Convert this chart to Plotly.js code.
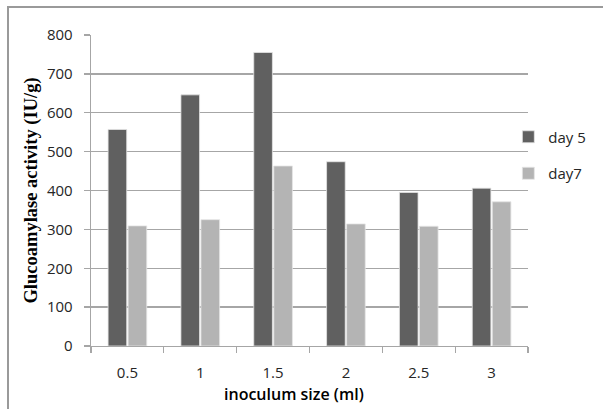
<!DOCTYPE html>
<html>
<head>
<meta charset="utf-8">
<script src="https://cdn.plot.ly/plotly-3.0.1.min.js"></script>
<style>
  html, body { margin: 0; padding: 0; background: #ffffff; }
  #wrap { position: relative; width: 603px; height: 409px; overflow: hidden; }
  #chart { position: absolute; left: 0; top: 0; width: 603px; height: 409px; }
  /* thin frame along the left and top edges */
  #frame { position: absolute; left: 7px; top: 6px; width: 700px; height: 500px;
           border-left: 2px solid #9a9a9a; border-top: 2px solid #9a9a9a;
           pointer-events: none; }
</style>
</head>
<body>
<div id="wrap">
  <div id="chart"></div>
  <div id="frame"></div>
</div>
<script>
// inoculum sizes (ml) on the category axis
const inoculumSizes = ['0.5', '1', '1.5', '2', '2.5', '3'];
// glucoamylase activity (IU/g) per inoculum size
const day5Activity = [557, 646, 755, 474, 395, 406];
const day7Activity = [309, 325, 463, 314, 308, 371];
const seriesNames = ['day 5', 'day7'];
const yTicks = [0, 100, 200, 300, 400, 500, 600, 700, 800];

const gridGrey = '#a6a6a6';
const tickFont = { family: '"Open Sans", "DejaVu Sans", sans-serif', size: 15, color: '#262626' };

const traces = [
  {
    type: 'bar', name: seriesNames[0], legendgroup: 'a',
    x: inoculumSizes, y: day5Activity,
    marker: { color: '#606060', line: { color: '#e4e4e4', width: 0.8 } },
    hoverinfo: 'x+y'
  },
  {
    type: 'bar', name: seriesNames[1], legendgroup: 'b',
    x: inoculumSizes, y: day7Activity,
    marker: { color: '#b4b4b4', line: { color: '#e4e4e4', width: 0.8 } },
    hoverinfo: 'x+y'
  }
];

const layout = {
  width: 603, height: 409,
  margin: { l: 91, r: 65, t: 35, b: 63, pad: 0 },
  paper_bgcolor: 'rgba(0,0,0,0)',
  plot_bgcolor: '#ffffff',
  barmode: 'group',
  bargap: 0.45,
  bargroupgap: 0.07,
  showlegend: true,
  legend: {
    x: 0.955, xanchor: 'left', y: 0.725, yanchor: 'top',
    bgcolor: 'rgba(0,0,0,0)', borderwidth: 0,
    font: { family: '"Open Sans", "DejaVu Sans", sans-serif', size: 15, color: '#262626' },
    tracegroupgap: 14, itemwidth: 30, traceorder: 'grouped'
  },
  xaxis: {
    type: 'category',
    showgrid: false,
    showline: true, linecolor: gridGrey, linewidth: 1.3,
    ticks: 'outside', tickson: 'boundaries', ticklen: 6, tickcolor: gridGrey, tickwidth: 1.3,
    tickfont: tickFont,
    ticklabelstandoff: 13,
    zeroline: false
  },
  yaxis: {
    range: [0, 800],
    tickvals: yTicks,
    showgrid: true, gridcolor: gridGrey, gridwidth: 1.3,
    showline: true, linecolor: gridGrey, linewidth: 1.3,
    ticks: 'outside', ticklen: 6, tickcolor: gridGrey, tickwidth: 1.3,
    tickfont: tickFont,
    ticklabelstandoff: 8,
    zeroline: false,
    title: {
      text: 'Glucoamylase activity (IU/g)',
      font: { family: '"Liberation Serif", "Times New Roman", serif', size: 18.5, color: '#000000', weight: 'bold' },
      standoff: 4
    }
  },
  annotations: [
    {
      text: 'inoculum size (ml)',
      xref: 'paper', yref: 'paper',
      x: (299 - 91) / 447, y: -0.153,
      xanchor: 'center', yanchor: 'middle',
      showarrow: false,
      font: { family: '"Open Sans", "DejaVu Sans", sans-serif', size: 16, color: '#000000', weight: 600 }
    }
  ]
};

Plotly.newPlot('chart', traces, layout, { displayModeBar: false, staticPlot: true });
</script>
</body>
</html>
